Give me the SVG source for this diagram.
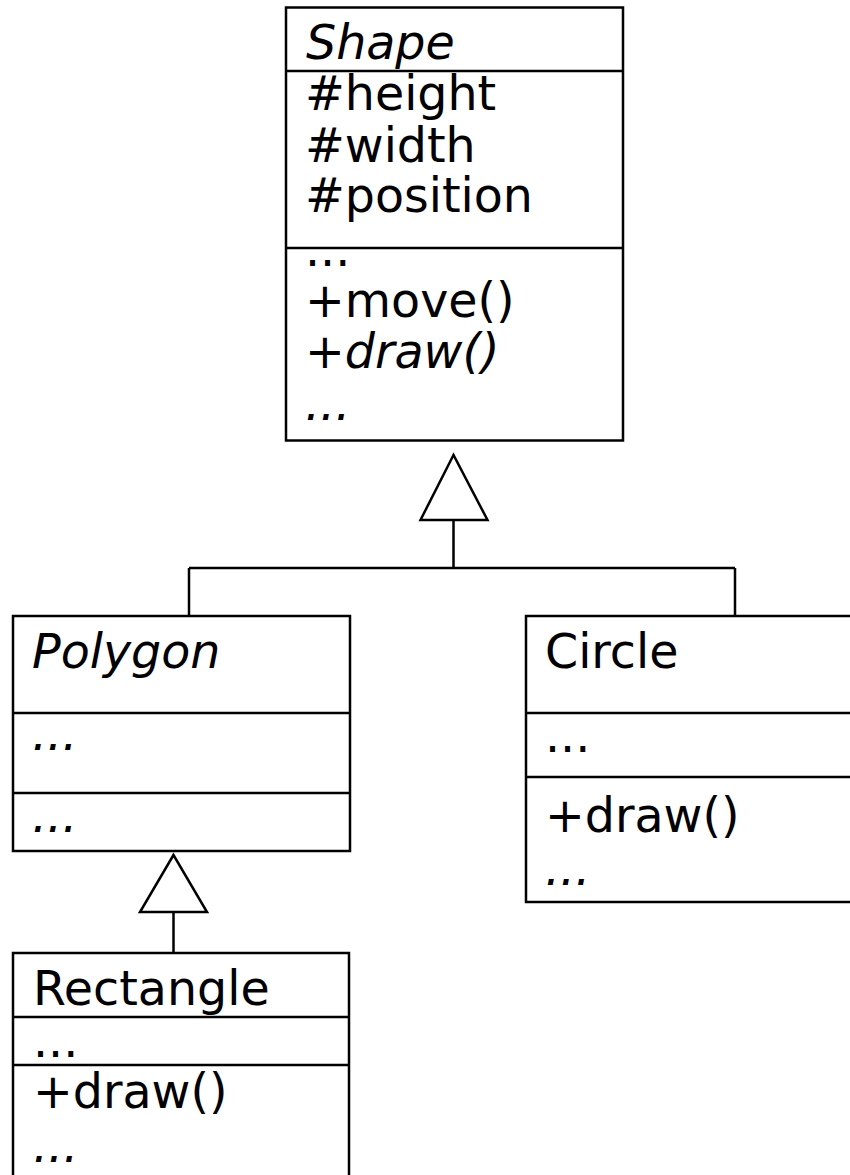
<svg xmlns="http://www.w3.org/2000/svg" width="850" height="1175" viewBox="0 0 850 1175">
<style>
.box{fill:#fff;stroke:#000;stroke-width:2.5}
.div{stroke:#000;stroke-width:2.5;fill:none}
.t{font-family:"DejaVu Sans",sans-serif;font-size:47.5px;fill:#000}
.i{font-style:italic}
.conn{stroke:#000;stroke-width:2.5;fill:none}
.tri{fill:#fff;stroke:#000;stroke-width:2.5;stroke-linejoin:miter}
</style>
<rect width="850" height="1175" fill="#fff"/>
<g id="connectors">
<polygon class="tri" points="453.5,455 420.5,520 487.5,520"/>
<path class="conn" d="M453.5,520 V568 M189,568 H735 M189,568 V616 M735,568 V616"/>
<polygon class="tri" points="173.5,855 140,912 207,912"/>
<path class="conn" d="M173.5,912 V953"/>
</g>
<g id="Shape">
<rect class="box" x="286" y="7.5" width="337" height="433"/>
<path class="div" d="M286,71 H623 M286,248 H623"/>
<text class="t i" x="306" y="59">Shape</text>
<text class="t" x="305" y="110">#height</text>
<text class="t" x="305" y="162">#width</text>
<text class="t" x="305" y="212">#position</text>
<text class="t" x="305" y="266">...</text>
<text class="t" x="305" y="317">+move()</text>
<text class="t" x="305" y="368">+<tspan class="i">draw()</tspan></text>
<text class="t i" x="305" y="420">...</text>
</g>
<g id="Polygon">
<rect class="box" x="13" y="616" width="337" height="235"/>
<path class="div" d="M13,713 H350 M13,793 H350"/>
<text class="t i" x="32" y="668">Polygon</text>
<text class="t i" x="32" y="750">...</text>
<text class="t i" x="32" y="832">...</text>
</g>
<g id="Circle">
<rect class="box" x="526" y="616" width="340" height="286"/>
<path class="div" d="M526,713 H866 M526,777 H866"/>
<text class="t" x="545" y="668">Circle</text>
<text class="t" x="545" y="752">...</text>
<text class="t" x="545" y="832">+draw()</text>
<text class="t i" x="545" y="885">...</text>
</g>
<g id="Rectangle">
<rect class="box" x="13" y="953" width="336" height="240"/>
<path class="div" d="M13,1017 H349 M13,1065 H349"/>
<text class="t" x="33" y="1005">Rectangle</text>
<text class="t" x="33" y="1057">...</text>
<text class="t" x="33" y="1108">+draw()</text>
<text class="t i" x="33" y="1162">...</text>
</g>
</svg>
